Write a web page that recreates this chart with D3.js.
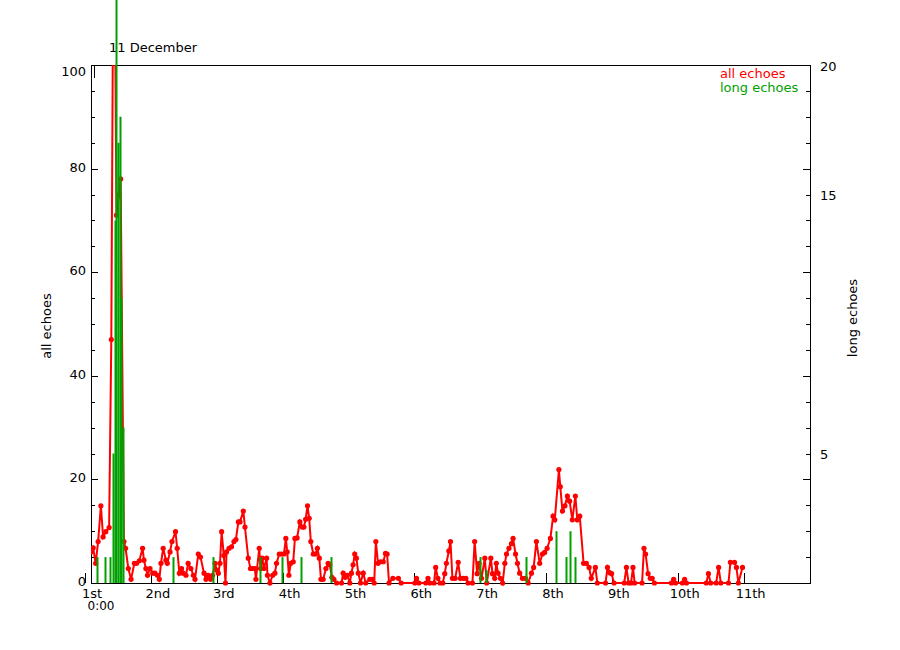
<!DOCTYPE html>
<html><head><meta charset="utf-8">
<script src="https://cdn.jsdelivr.net/npm/d3@7"></script>
<style>
body{margin:0;background:#fff}
text{font-family:"DejaVu Sans",sans-serif;font-size:13px;fill:#000}
</style>
</head><body>
<svg id="chart" width="900" height="650"></svg>
<script>
// ---- data (hours since 1st 0:00) ----
const allHours = [0,0.8,1.7,2.6,3.6,4.4,5.4,6.6,7.4,8.3,9.3,10.2,10.8,12.0,12.6,13.6,14.6,15.8,16.6,17.6,18.8,19.3,20.0,20.6,21.5,22.5,23.3,24.2,24.9,25.5,26.3,27.3,27.8,28.8,29.5,30.8,31.4,32.2,33.0,33.6,34.6,35.4,36.4,37.3,37.9,39.1,39.9,41.2,41.9,42.7,43.6,44.3,45.2,45.8,46.4,47.0,47.6,48.4,49.0,49.4,50.3,51.2,52.1,52.8,53.7,
54.3,55.5,56.1,57.3,58.1,58.9,59.7,60.1,61.3,61.8,62.4,63.0,64.0,64.3,65.2,66.2,67.0,67.6,68.6,69.4,70.3,71.0,71.5,72.1,72.8,73.7,74.3,75.1,76.1,77.0,77.6,78.2,78.9,79.5,80.1,81.0,81.8,82.5,83.2,83.8,84.6,85.6,86.4,87.0,87.8,88.5,89.5,91.3,91.9,92.6,93.4,94.3,94.9,95.5,96.1,96.7,97.4,98.2,99.2,100.1,101.6,102.6,103.2,103.8,104.6,105.5,106.5,107.3,
107.9,108.6,110,112,113,118,118.6,119.5,122,122.8,123.5,125,125.6,126.4,127.2,128.2,128.9,129.5,130.4,131,131.7,132.7,133.8,134.6,135.6,136.6,137.4,139,139.8,140.7,141.4,142.3,143.5,144.2,145.7,146.3,147.1,147.7,148.3,149.2,150,150.8,151.4,152.3,153.2,153.8,154.7,155.4,156.2,157.2,158.3,159.3,160.5,161.3,162.3,163.5,164.5,165.3,166.2,167.4,168.4,169,170.5,171.0,171.8,172.7,173.6,174.4,175.4,176.5,177.2,178.1,179.5,180.5,181.5,182.3,183.8,184.5,187.5,188.2,189,189.7,190.6,194.3,195.1,195.9,196.8,197.5,198.1,200.8,201.5,202.1,203,203.8,204.5,205.3,211.5,212.3,213,215.5,216.3,217,224.2,225,225.8,227.8,228.7,229.5,232.3,233,234.5,235.2,235.9,237.4];
const allEchoes = [6.0,6.8,3.8,8.0,14.9,8.9,9.9,10.7,47,140,71,75,78,8.0,6.7,2.8,0.7,3.8,3.8,4.3,6.7,4.4,2.8,1.5,2.8,1.9,1.9,1.5,0.7,3.8,6.7,4.4,3.8,6.0,8.0,9.9,6.7,1.9,2.8,1.9,1.5,3.8,2.8,1.5,0.7,5.6,5.0,1.9,0.7,1.5,0.7,1.5,3.8,2.5,1.9,3.8,9.9,5.3,0,6.0,6.7,7.0,8.0,8.4,11.8,
11.8,13.9,10.8,4.8,2.8,2.8,2.8,0.7,6.7,2.8,4.8,2.8,4.8,1.5,0,1.5,1.9,3.8,5.6,5.6,5.6,8.6,6,1.5,3.8,4.1,8.6,8.7,11.8,10.8,10.8,12.3,14.9,12.5,8.0,5.6,5.6,6.7,4.8,0.7,0.7,2.8,3.8,3.5,1.1,0.7,0,0,1.9,1.1,1.5,0,1.9,3.5,5.6,4.8,1.9,0,1.9,0,0.7,0.7,0,8.0,3.8,4.1,4.1,5.7,
5.6,0,0.9,0.9,0,0,0.9,0,0,0.9,0,0,3.0,0.9,0,0,1.8,3.8,6.2,8.0,0.9,0.9,4.0,0.9,0.9,0.9,0,0,8.0,1.8,3.8,0.9,4.8,0,4.8,1.8,0.9,3.8,1.9,0.9,0,3.8,5.6,6.7,7.6,8.6,5.6,3.8,1.9,0.9,0.9,0,1.9,3.0,8.0,3.8,5.6,5.9,6.7,8.6,12.9,12.2,21.9,18.6,13.9,14.9,16.8,15.8,12.2,16.8,12.2,12.9,3.8,3.8,3.0,0.9,3.0,0,0,3.0,2.0,1.8,0,0,3.0,0,0,3.0,0,0,6.7,5.6,1.8,0.9,0.9,0,0,0.7,0,0,0.7,0,0,1.8,0,0,3.0,0,0,4.0,4.0,3.0,0,3.0];
const longHours  = [2.1,5.1,6.9,7.9,8.6,9.1,10.0,10.7,11.1,11.5,29.8,44.5,61.5,69.7,76.5,87.3,141.7,143.8,158.4,169.3,173.2,174.4,176.4];
const longEchoes = [1,1,1,5,14,25,17,18,11,6,1,1,1,1,1,1,1,0.5,1,2,1,2,1];
const dayLabels = ["1st","2nd","3rd","4th","5th","6th","7th","8th","9th","10th","11th"];
const leftTickValues = [0,20,40,60,80,100];
const rightTickLabels = [5,15,20];

// ---- layout ----
const svg = d3.select("#chart");
const L = 91, R = 810, T = 65, B = 583;
const x = d3.scaleLinear().domain([0, 262]).range([L, R]);
const yL = d3.scaleLinear().domain([0, 100]).range([B, T]);
const yR = d3.scaleLinear().domain([0, 20]).range([B, T]);
const red = "#ff0000", green = "#00a000";

svg.append("defs").append("clipPath").attr("id","plotclip")
  .append("rect").attr("x",L).attr("y",T).attr("width",R-L).attr("height",B-T+4);

// frame
const frame = svg.append("g").attr("stroke","#000").attr("stroke-width",1).attr("fill","none").attr("shape-rendering","crispEdges");
frame.append("line").attr("x1",L).attr("x2",R).attr("y1",T+0.5).attr("y2",T+0.5);
frame.append("line").attr("x1",L).attr("x2",R).attr("y1",B+0.5).attr("y2",B+0.5);
frame.append("line").attr("x1",L+0.5).attr("x2",L+0.5).attr("y1",T).attr("y2",B+1);
frame.append("line").attr("x1",R+0.5).attr("x2",R+0.5).attr("y1",T).attr("y2",B+1);

// left ticks (minor every 5, major every 20)
d3.range(0,101,5).forEach(v=>{
  const major = v%20===0;
  frame.append("line").attr("x1",L).attr("x2",L+(major?7:4))
    .attr("y1",Math.round(yL(v))+0.5).attr("y2",Math.round(yL(v))+0.5);
});
// right ticks (minor every 1, major every 4)
d3.range(0,21,1).forEach(v=>{
  const major = v%4===0;
  frame.append("line").attr("x1",R).attr("x2",R-(major?7:4))
    .attr("y1",Math.round(yR(v))+0.5).attr("y2",Math.round(yR(v))+0.5);
});
// day ticks on bottom axis
dayLabels.forEach((d,i)=>{
  const xx = Math.round(x(24*i)-6)+0.5;
  frame.append("line").attr("x1",xx).attr("x2",xx).attr("y1",B-10).attr("y2",B);
});
frame.append("line").attr("x1",Math.round(x(0))+3.5).attr("x2",Math.round(x(0))+3.5).attr("y1",T).attr("y2",T+13);

// left tick labels
svg.append("g").selectAll("text").data(leftTickValues).join("text")
  .attr("x",L-5).attr("y",v=>yL(v)+ (v===100?11:3)).attr("text-anchor","end").text(v=>v);
// right tick labels
svg.append("g").selectAll("text").data(rightTickLabels).join("text")
  .attr("x",R+10).attr("y",v=>yR(v)+ (v===20?6:5)).attr("text-anchor","start").text(v=>v);
// bottom labels
svg.append("g").selectAll("text").data(dayLabels).join("text")
  .attr("x",(d,i)=>x(24*i)+1).attr("y",B+15).attr("text-anchor","middle").text(d=>d);
svg.append("text").attr("x",x(0)+10).attr("y",B+27).attr("text-anchor","middle").style("font-size","12px").text("0:00");

// axis titles
svg.append("text").attr("transform",`translate(51,${(T+B)/2+2}) rotate(-90)`).attr("text-anchor","middle").text("all echoes");
svg.append("text").attr("transform",`translate(857,${(T+B)/2-6}) rotate(-90)`).attr("text-anchor","middle").text("long echoes");
// title
svg.append("text").attr("x",109).attr("y",52).text("11 December");
// legend
svg.append("text").attr("x",720).attr("y",78).style("fill",red).text("all echoes");
svg.append("text").attr("x",720).attr("y",92).style("fill",green).text("long echoes");

// red series
const pts = allHours.map((h,i)=>[h, allEchoes[i]]);
const gRed = svg.append("g").attr("clip-path","url(#plotclip)");
gRed.append("path").datum(pts)
  .attr("d", d3.line().x(d=>x(d[0])).y(d=>yL(d[1])))
  .attr("fill","none").attr("stroke",red).attr("stroke-width",2).attr("stroke-linejoin","miter");
gRed.selectAll("circle").data(pts).join("circle")
  .attr("cx",d=>x(d[0])).attr("cy",d=>yL(d[1])).attr("r",2.6).attr("fill",red);

// green bars
svg.append("g").selectAll("line").data(longHours.map((h,i)=>[h,longEchoes[i]])).join("line")
  .attr("x1",d=>Math.round(x(d[0]))+0.5).attr("x2",d=>Math.round(x(d[0]))+0.5)
  .attr("y1",B).attr("y2",d=>yR(d[1]))
  .attr("stroke",green).attr("stroke-width",2);
</script>
</body></html>
